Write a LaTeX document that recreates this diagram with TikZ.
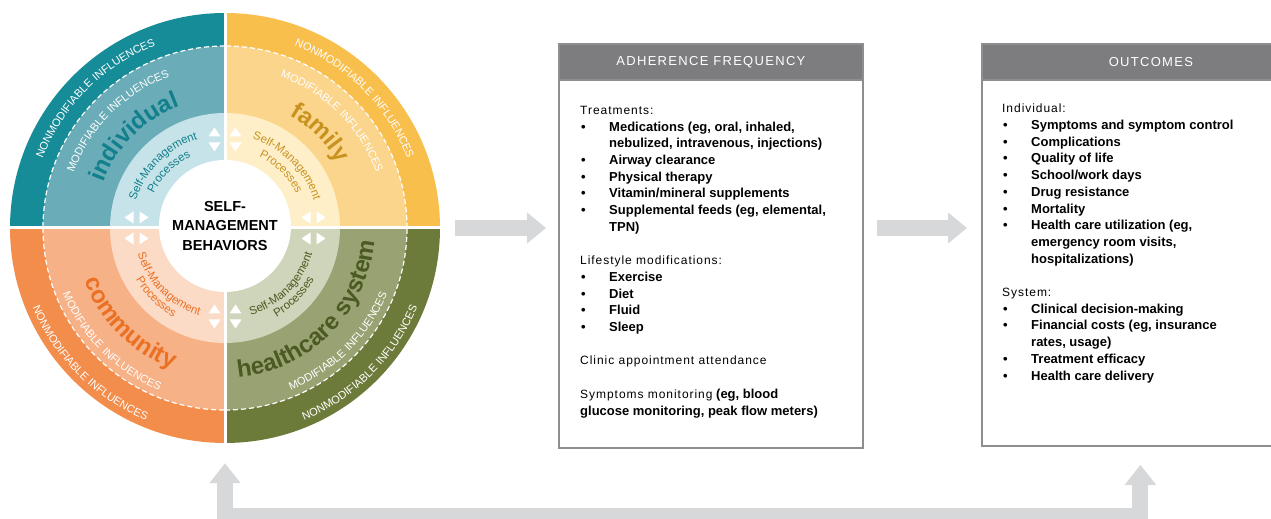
\documentclass[tikz,border=0pt]{standalone}
\usepackage{fontspec}
\setmainfont{Liberation Sans}
\newfontfamily\spacedfont[LetterSpace=8]{Liberation Sans}
\newfontfamily\ringfont[LetterSpace=6]{Liberation Sans}
\newfontfamily\headfont[LetterSpace=10]{Liberation Sans}
\usetikzlibrary{arrows.meta,decorations.text,positioning}

\definecolor{indivdark}{HTML}{178C99}
\definecolor{indivmid}{HTML}{6AACB7}
\definecolor{indivpale}{HTML}{C6E3E9}
\definecolor{indivtext}{HTML}{127F8C}
\definecolor{famdark}{HTML}{F9BF4D}
\definecolor{fammid}{HTML}{FCD58D}
\definecolor{fampale}{HTML}{FEEFC8}
\definecolor{famtext}{HTML}{C8921F}
\definecolor{commdark}{HTML}{F28D4B}
\definecolor{commmid}{HTML}{F7B186}
\definecolor{commpale}{HTML}{FCDBC6}
\definecolor{commtext}{HTML}{EA7024}
\definecolor{hlthdark}{HTML}{6D7B3A}
\definecolor{hlthmid}{HTML}{98A273}
\definecolor{hlthpale}{HTML}{CFD5BA}
\definecolor{hlthtext}{HTML}{4A5A22}
\definecolor{headgray}{HTML}{7D7D80}
\definecolor{boxline}{HTML}{8E8E90}
\definecolor{arrowgray}{HTML}{D7D8DA}

\newcommand{\ringfmt}{\ringfont\fontsize{11}{13}\selectfont\color{white}}
\newcommand{\namefmt}{\fontsize{24}{28}\selectfont\bfseries}
\newcommand{\smpfmt}{\fontsize{11.5}{13}\selectfont}
\newcommand{\reg}[1]{{\spacedfont\mdseries\fontsize{12}{16.7}\selectfont #1}}
\newcommand{\bul}{\makebox[29pt][l]{\hspace{1pt}\textbullet}}
\newcommand{\cont}{\hspace*{29pt}}

\tikzset{
  panel/.style={draw=boxline, line width=1.8pt, fill=white, inner sep=0pt, anchor=north west},
  panelhead/.style={draw=boxline, line width=1.8pt, fill=headgray, text=white, inner sep=0pt,
    minimum height=36pt, anchor=north, font=\headfont\fontsize{13}{15}\selectfont},
  listtext/.style={align=left, anchor=north west, inner sep=0pt, font=\fontsize{13}{16.7}\selectfont\bfseries},
  bigarrow/.style={draw=arrowgray, line width=16pt, line join=miter, -{Triangle[length=19pt,width=30pt]}},
  ringtext/.style={decorate, decoration={text along path, text align=center, text={#1}}}
}

\begin{document}
\begin{tikzpicture}[x=1pt,y=1pt]
  \clip (0,0) rectangle (1271,519);
  \node[circle, minimum size=430pt, inner sep=0pt] (wheel) at (225,291) {};

  \begin{scope}[shift={(wheel.center)}]
    \foreach \a/\dark/\mid/\pale in {90/indivdark/indivmid/indivpale, 0/famdark/fammid/fampale,
                                     180/commdark/commmid/commpale, 270/hlthdark/hlthmid/hlthpale} {
      \fill[\dark] (0,0) -- (\a:215) arc[start angle=\a, end angle=\a+90, radius=215] -- cycle;
      \fill[\mid] (0,0) -- (\a:182) arc[start angle=\a, end angle=\a+90, radius=182] -- cycle;
      \draw[white, line width=1.2pt, dash pattern=on 5pt off 3pt]
        (\a:182) arc[start angle=\a, end angle=\a+90, radius=182];
      \fill[\pale] (0,0) -- (\a:115) arc[start angle=\a, end angle=\a+90, radius=115] -- cycle;
    }
    \draw[white, line width=3pt] (-216,0) -- (216,0) (0,-216) -- (0,216);

    \foreach \a in {0,90,180,270}
      \foreach \s in {-1,1} {
        \fill[white, rotate=\a] (100.5,\s*10.5) -- (91.5,\s*10.5+6) -- (91.5,\s*10.5-6) -- cycle;
        \fill[white, rotate=\a] (76.5,\s*10.5) -- (85.5,\s*10.5+6) -- (85.5,\s*10.5-6) -- cycle;
      }

    \node[circle, fill=white, minimum size=132pt, inner sep=0pt, align=center,
          font=\fontsize{14.5}{19.5}\selectfont\bfseries] (smb) at (0,2) {SELF-\\MANAGEMENT\\BEHAVIORS};

    % top half
    \foreach \a/\name/\col in {90/individual/indivtext, 0/family/famtext} {
      \path[ringtext={|\ringfmt|NONMODIFIABLE INFLUENCES}] (\a+90:195) arc[start angle=\a+90, end angle=\a, radius=195];
      \path[ringtext={|\ringfmt|MODIFIABLE INFLUENCES}] (\a+90:161) arc[start angle=\a+90, end angle=\a, radius=161];
      \path[ringtext={|\namefmt\color{\col}|\name}] (\a+90:130) arc[start angle=\a+90, end angle=\a, radius=130];
      \path[ringtext={|\smpfmt\color{\col}|Self-Management}] (\a+90:93) arc[start angle=\a+90, end angle=\a, radius=93];
      \path[ringtext={|\smpfmt\color{\col}|Processes}] (\a+90:79) arc[start angle=\a+90, end angle=\a, radius=79];
    }
    % bottom half
    \foreach \a/\name/\col in {180/community/commtext, 270/healthcare system/hlthtext} {
      \path[ringtext={|\ringfmt|NONMODIFIABLE INFLUENCES}] (\a:208) arc[start angle=\a, end angle=\a+90, radius=208];
      \path[ringtext={|\ringfmt|MODIFIABLE INFLUENCES}] (\a:175) arc[start angle=\a, end angle=\a+90, radius=175];
      \path[ringtext={|\namefmt\color{\col}|\name}] (\a:150) arc[start angle=\a, end angle=\a+90, radius=150];
      \path[ringtext={|\smpfmt\color{\col}|Self-Management}] (\a:91) arc[start angle=\a, end angle=\a+90, radius=91];
      \path[ringtext={|\smpfmt\color{\col}|Processes}] (\a:103) arc[start angle=\a, end angle=\a+90, radius=103];
    }
  \end{scope}

  \node[panel, minimum width=304pt, minimum height=404pt] (adh) at (558,476) {};
  \node[panelhead, minimum width=304pt] (adhhead) at (adh.north) {ADHERENCE FREQUENCY};
  \node[listtext] (adhlist) at ([xshift=22pt,yshift=-63pt]adh.north west) {\reg{Treatments:}\\
    \bul Medications (eg, oral, inhaled,\\
    \cont nebulized, intravenous, injections)\\
    \bul Airway clearance\\
    \bul Physical therapy\\
    \bul Vitamin/mineral supplements\\
    \bul Supplemental feeds (eg, elemental,\\
    \cont TPN)\\[16.7pt]
    \reg{Lifestyle modifications:}\\
    \bul Exercise\\
    \bul Diet\\
    \bul Fluid\\
    \bul Sleep\\[16.7pt]
    \reg{Clinic appointment attendance}\\[16.7pt]
    \reg{Symptoms monitoring} (eg, blood\\
    glucose monitoring, peak flow meters)};

  \node[panel, minimum width=338pt, minimum height=402pt] (out) at (981,476) {};
  \node[panelhead, minimum width=338pt] (outhead) at (out.north) {OUTCOMES};
  \node[listtext] (outlist) at ([xshift=21pt,yshift=-61pt]out.north west) {\reg{Individual:}\\
    \bul Symptoms and symptom control\\
    \bul Complications\\
    \bul Quality of life\\
    \bul School/work days\\
    \bul Drug resistance\\
    \bul Mortality\\
    \bul Health care utilization (eg,\\
    \cont emergency room visits,\\
    \cont hospitalizations)\\[16.7pt]
    \reg{System:}\\
    \bul Clinical decision-making\\
    \bul Financial costs (eg, insurance\\
    \cont rates, usage)\\
    \bul Treatment efficacy\\
    \bul Health care delivery};

  \draw[bigarrow] ([xshift=15pt]wheel.east) -- ([xshift=-12pt]adh.west |- wheel.east);
  \draw[bigarrow] ([xshift=13pt]adh.east |- wheel.east) -- ([xshift=-14pt]out.west |- wheel.east);
  \draw[bigarrow, {Triangle[length=20pt,width=30pt]}-{Triangle[length=20pt,width=30pt]}]
    ([yshift=-20pt]wheel.south) -- ++(0,-53) -| ([xshift=-10.5pt,yshift=-18pt]out.south);
\end{tikzpicture}
\end{document}
